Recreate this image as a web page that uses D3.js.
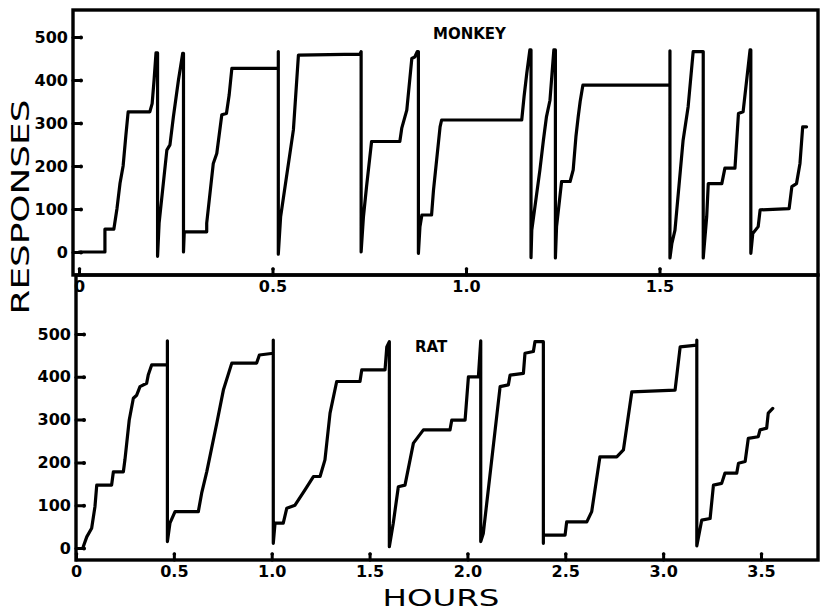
<!DOCTYPE html>
<html>
<head>
<meta charset="utf-8">
<script src="https://cdn.jsdelivr.net/npm/d3@7"></script>
<style>
  body { margin: 0; background: #fff; }
  svg { display: block; }
  .tick text { font-family: "DejaVu Sans", sans-serif; font-weight: bold; font-size: 16px; fill: #000; }
  .tick line { stroke: #000; stroke-width: 3px; stroke-linecap: round; }
</style>
</head>
<body>
<svg id="chart" width="829" height="612"></svg>
<script>
// Cumulative response records (pen resets drawn as vertical strokes)
const monkeyHours = [
  0, 0.067, 0.067, 0.090, 0.098, 0.106, 0.114, 0.121, 0.127, 0.183, 0.189, 0.194, 0.199, 0.203, 0.203,
  0.207, 0.227, 0.235, 0.244, 0.257, 0.268, 0.270, 0.270, 0.272, 0.330, 0.330, 0.347, 0.356, 0.369, 0.381,
  0.388, 0.395, 0.506, 0.515, 0.515, 0.515, 0.521, 0.554, 0.567, 0.726, 0.729, 0.729, 0.735, 0.743, 0.756,
  0.829, 0.834, 0.847, 0.860, 0.868, 0.874, 0.877, 0.877, 0.881, 0.886, 0.911, 0.916, 0.933, 0.937, 1.144,
  1.150, 1.157, 1.165, 1.168, 1.168, 1.170, 1.191, 1.200, 1.208, 1.217, 1.227, 1.231, 1.231, 1.234, 1.247,
  1.269, 1.277, 1.284, 1.290, 1.295, 1.302, 1.523, 1.527, 1.527, 1.527, 1.532, 1.540, 1.561, 1.574, 1.587,
  1.609, 1.613, 1.613, 1.622, 1.626, 1.661, 1.669, 1.695, 1.704, 1.716, 1.734, 1.736, 1.736, 1.741, 1.755,
  1.760, 1.835, 1.842, 1.854, 1.863, 1.870, 1.880
];
const monkeyResponses = [
  0, 0, 53, 53, 100, 160, 200, 270, 326, 326, 345, 400, 463, 463, -10,
  67, 237, 249, 315, 400, 462, 462, 0, 47, 47, 67, 206, 229, 319, 322,
  365, 427, 427, 427, 466, -5, 82, 284, 458, 460, 466, 0, 82, 152, 257,
  257, 288, 330, 450, 454, 466, 466, -3, 59, 86, 86, 144, 291, 307, 307,
  361, 415, 470, 470, -13, 51, 191, 260, 315, 353, 470, 470, -14, 59, 164,
  164, 191, 268, 315, 350, 388, 388, 388, 468, -14, 20, 51, 260, 338, 466,
  466, 466, -14, 82, 159, 159, 195, 195, 322, 326, 470, 470, -3, 43, 59,
  98, 101, 152, 159, 206, 291, 291
];

const ratHours = [
  0.037, 0.055, 0.080, 0.097, 0.106, 0.182, 0.191, 0.242, 0.250, 0.272, 0.293, 0.310, 0.327, 0.361, 0.369,
  0.387, 0.455, 0.467, 0.467, 0.467, 0.480, 0.506, 0.625, 0.642, 0.668, 0.719, 0.753, 0.796, 0.923, 0.937,
  1.008, 1.008, 1.008, 1.017, 1.059, 1.077, 1.119, 1.170, 1.213, 1.247, 1.272, 1.298, 1.332, 1.451, 1.460,
  1.579, 1.588, 1.601, 1.601, 1.621, 1.647, 1.681, 1.724, 1.775, 1.911, 1.920, 1.988, 2.005, 2.056, 2.068,
  2.068, 2.081, 2.167, 2.209, 2.218, 2.286, 2.294, 2.337, 2.345, 2.388, 2.388, 2.388, 2.499, 2.507, 2.610,
  2.635, 2.677, 2.763, 2.797, 2.840, 3.061, 3.087, 3.172, 3.172, 3.172, 3.197, 3.240, 3.257, 3.299, 3.316,
  3.376, 3.385, 3.419, 3.435, 3.486, 3.495, 3.529, 3.537, 3.560
];
const ratResponses = [
  3, 26, 46, 97, 147, 147, 178, 178, 206, 299, 350, 357, 377, 385, 404,
  428, 428, 428, 484, 15, 58, 85, 85, 128, 178, 291, 369, 432, 432, 451,
  455, 486, 11, 58, 58, 93, 100, 136, 167, 167, 206, 315, 389, 389, 416,
  416, 470, 482, 3, 58, 143, 147, 245, 276, 276, 299, 299, 400, 400, 484,
  15, 34, 377, 381, 404, 408, 455, 459, 482, 482, 11, 30, 30, 61, 61,
  85, 213, 213, 229, 365, 369, 470, 474, 486, 5, 65, 69, 147, 151, 175,
  175, 198, 202, 256, 260, 276, 280, 315, 326
];

const responseTicks = [0, 100, 200, 300, 400, 500];
const monkeyHourTicks = [0, 0.5, 1.0, 1.5];
const ratHourTicks = [0, 0.5, 1.0, 1.5, 2.0, 2.5, 3.0, 3.5];

const svg = d3.select("#chart");
svg.append("rect").attr("width", 829).attr("height", 612).attr("fill", "#fff");

const panels = [
  {
    name: "MONKEY", hours: monkeyHours, responses: monkeyResponses, hourTicks: monkeyHourTicks,
    box: { left: 73, right: 818, top: 10, bottom: 275 },
    x: d3.scaleLinear().domain([0, 1.5]).range([79, 659.5]),
    y: d3.scaleLinear().domain([0, 500]).range([252, 37]),
    title: { x: 433, y: 39 }
  },
  {
    name: "RAT", hours: ratHours, responses: ratResponses, hourTicks: ratHourTicks,
    box: { left: 76, right: 818, top: 275, bottom: 560 },
    x: d3.scaleLinear().domain([0, 3.5]).range([76, 761]),
    y: d3.scaleLinear().domain([0, 500]).range([548, 334]),
    title: { x: 415, y: 352 }
  }
];

const hourFormat = d => d === 0 ? "0" : d3.format(".1f")(d);

panels.forEach(p => {
  const g = svg.append("g");

  // record trace
  const pts = p.hours.map((h, i) => [h, p.responses[i]]);
  g.append("path")
    .datum(pts)
    .attr("fill", "none")
    .attr("stroke", "#000")
    .attr("stroke-width", 3.2)
    .attr("stroke-linejoin", "round")
    .attr("stroke-linecap", "round")
    .attr("d", d3.line().x(d => p.x(d[0])).y(d => p.y(d[1])));

  // response axis (ticks point inward)
  const ya = g.append("g")
    .attr("transform", `translate(${p.box.left},0)`)
    .call(d3.axisLeft(p.y).tickValues(responseTicks).tickSize(-8).tickPadding(5).tickFormat(d3.format("d")));
  ya.select(".domain").remove();
  ya.selectAll(".tick").append("circle").attr("cx", 8).attr("r", 2).attr("fill", "#000");

  // hour axis along the panel's lower edge
  const xa = g.append("g")
    .attr("transform", `translate(0,${p.box.bottom})`)
    .call(d3.axisBottom(p.x).tickValues(p.hourTicks).tickSize(-6).tickPadding(6).tickFormat(hourFormat));
  xa.select(".domain").remove();
  xa.selectAll(".tick").append("circle").attr("cy", -6).attr("r", 1.8).attr("fill", "#000");

  // panel frame
  g.append("rect")
    .attr("x", p.box.left).attr("y", p.box.top)
    .attr("width", p.box.right - p.box.left)
    .attr("height", p.box.bottom - p.box.top)
    .attr("fill", "none").attr("stroke", "#000").attr("stroke-width", 3.4);

  g.append("text")
    .attr("x", p.title.x).attr("y", p.title.y)
    .attr("font-family", "DejaVu Sans, sans-serif")
    .attr("font-weight", "bold").attr("font-size", 15)
    .text(p.name);
});

svg.append("text")
  .attr("x", 441).attr("y", 606)
  .attr("text-anchor", "middle")
  .attr("font-family", "DejaVu Sans, sans-serif")
  .attr("font-size", 23)
  .attr("textLength", 117).attr("lengthAdjust", "spacingAndGlyphs")
  .text("HOURS");

svg.append("text")
  .attr("transform", "translate(29,207) rotate(-90)")
  .attr("text-anchor", "middle")
  .attr("font-family", "DejaVu Sans, sans-serif")
  .attr("font-size", 24)
  .attr("textLength", 215).attr("lengthAdjust", "spacingAndGlyphs")
  .text("RESPONSES");
</script>
</body>
</html>
